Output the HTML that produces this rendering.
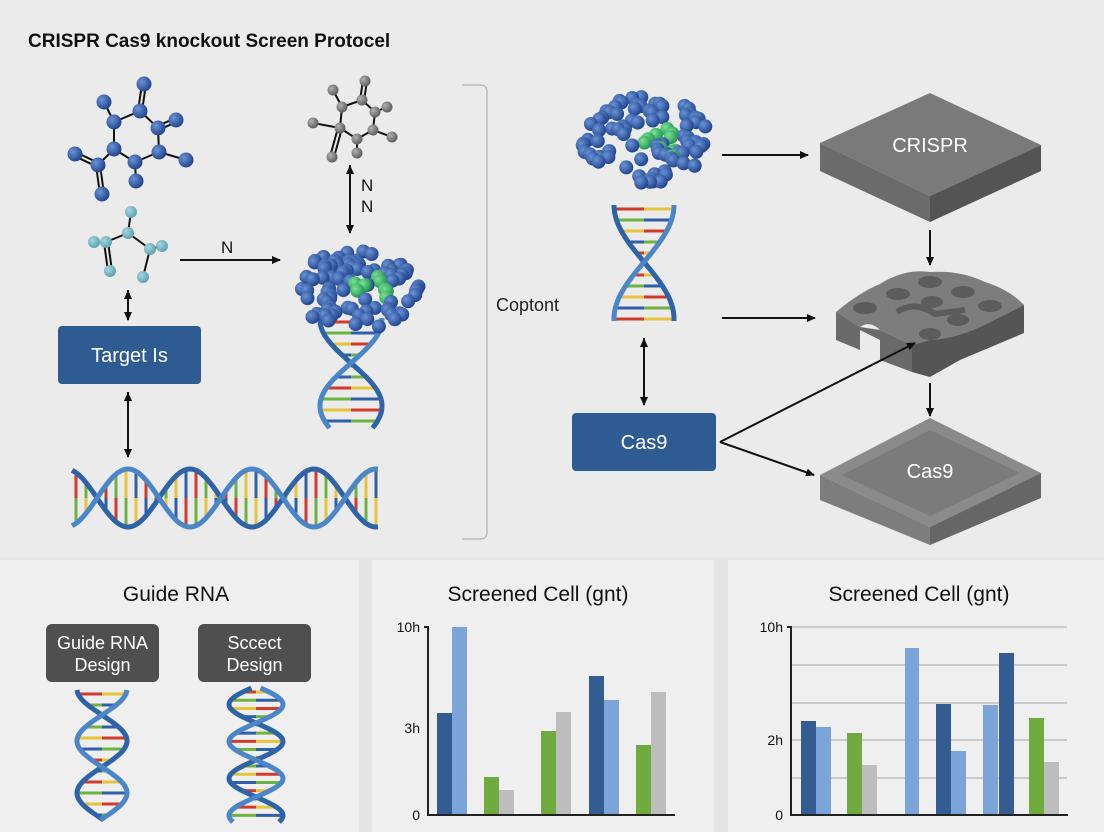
<!DOCTYPE html>
<html><head><meta charset="utf-8"><style>
html,body{margin:0;padding:0;background:#e9e9e9;}
svg{display:block;font-family:"Liberation Sans",sans-serif;}
</style></head><body>
<svg id="s" width="1104" height="832" viewBox="0 0 1104 832" xmlns="http://www.w3.org/2000/svg">
<defs>
<radialGradient id="gb" cx="35%" cy="35%" r="65%"><stop offset="0" stop-color="#6a93d6"/><stop offset="1" stop-color="#23478f"/></radialGradient>
<radialGradient id="gg" cx="35%" cy="35%" r="65%"><stop offset="0" stop-color="#7fe09a"/><stop offset="1" stop-color="#1f9a4c"/></radialGradient>
<radialGradient id="gt" cx="35%" cy="35%" r="65%"><stop offset="0" stop-color="#a5d6df"/><stop offset="1" stop-color="#5fa4b3"/></radialGradient>
<radialGradient id="gy" cx="35%" cy="35%" r="65%"><stop offset="0" stop-color="#b0b0b0"/><stop offset="1" stop-color="#5f5f5f"/></radialGradient>
<marker id="ah" markerWidth="10" markerHeight="10" refX="8" refY="5" orient="auto" markerUnits="userSpaceOnUse"><path d="M0,1 L9,5 L0,9 Z" fill="#111"/></marker>
<marker id="at" markerWidth="10" markerHeight="10" refX="1" refY="5" orient="auto" markerUnits="userSpaceOnUse"><path d="M10,1 L1,5 L10,9 Z" fill="#111"/></marker>
</defs>
<rect width="1104" height="832" fill="#ebebeb"/>
<rect x="0" y="558" width="1104" height="274" fill="#e4e4e4"/>
<rect x="0" y="560" width="359" height="272" fill="#efefef"/>
<rect x="372" y="560" width="342" height="272" fill="#efefef"/>
<rect x="728" y="560" width="376" height="272" fill="#efefef"/>
<text x="28" y="47" font-size="19" font-weight="bold" fill="#111">CRISPR Cas9 knockout Screen Protocel</text>
<path d="M462,85 H480 Q487,85 487,92 V532 Q487,539 480,539 H462" fill="none" stroke="#bbb" stroke-width="1.5"/>
<text x="496" y="311" font-size="18" fill="#222">Coptont</text>
<g id="mol"></g>
<g id="dna"></g>
<g id="clu"></g>
<rect x="58" y="326" width="143" height="58" rx="4" fill="#2f5b93"/>
<text x="129.5" y="362" font-size="20" fill="#fff" text-anchor="middle">Target Is</text>
<rect x="572" y="413" width="144" height="58" rx="4" fill="#2f5b93"/>
<text x="644" y="449" font-size="20" fill="#fff" text-anchor="middle">Cas9</text>
<polygon points="820,143 930,93 1041,145 930,196" fill="#7a7a7a"/>
<polygon points="820,143 930,196 930,222 820,171" fill="#6b6b6b"/>
<polygon points="930,196 1041,145 1041,171 930,222" fill="#545454"/>
<text x="930" y="152" font-size="20" fill="#fff" text-anchor="middle">CRISPR</text>
<path d="M836,312 Q860,292 880,284 Q905,268 930,272 Q960,270 985,282 Q1010,290 1024,305 L990,322 Q960,338 930,340 L912,345 L880,330 Q870,320 860,327 Z" fill="#7d7d7d"/>
<path d="M836,312 L860,327 L880,330 L912,345 L912,372 L880,360 L880,340 L860,330 L860,350 L836,340 Z" fill="#6a6a6a"/>
<path d="M912,345 L930,340 Q960,338 990,322 L1024,305 L1024,333 L960,360 L930,377 L912,372 Z" fill="#555"/>
<g fill="#5c5c5c"><ellipse cx="930" cy="282" rx="12" ry="6"/><ellipse cx="898" cy="294" rx="12" ry="6"/><ellipse cx="963" cy="292" rx="12" ry="6"/><ellipse cx="932" cy="302" rx="11" ry="6"/><ellipse cx="865" cy="308" rx="12" ry="6"/><ellipse cx="990" cy="306" rx="12" ry="6"/><ellipse cx="958" cy="320" rx="11" ry="6"/><ellipse cx="930" cy="334" rx="11" ry="6"/><path d="M897,312 Q915,300 935,314 Q950,312 965,310" stroke="#5c5c5c" stroke-width="6" fill="none"/></g>
<polygon points="820,475 930,418 1041,473 930,527" fill="#8a8a8a"/>
<polygon points="842,475 930,430 1020,473 930,516" fill="#7b7b7b"/>
<polygon points="820,475 930,527 930,545 820,500" fill="#7d7d7d"/>
<polygon points="930,527 1041,473 1041,498 930,545" fill="#666"/>
<text x="930" y="478" font-size="20" fill="#fff" text-anchor="middle">Cas9</text>
<g stroke="#111" stroke-width="2" fill="none">
<line x1="722" y1="155" x2="808" y2="155" marker-end="url(#ah)"/>
<line x1="930" y1="230" x2="930" y2="265" marker-end="url(#ah)"/>
<line x1="722" y1="318" x2="815" y2="318" marker-end="url(#ah)"/>
<line x1="930" y1="383" x2="930" y2="416" marker-end="url(#ah)"/>
<line x1="720" y1="442" x2="915" y2="343" marker-end="url(#ah)"/>
<line x1="720" y1="442" x2="814" y2="475" marker-end="url(#ah)"/>
<line x1="180" y1="260" x2="280" y2="260" marker-end="url(#ah)"/>
<line x1="128" y1="290" x2="128" y2="320" marker-end="url(#ah)" marker-start="url(#at)"/>
<line x1="128" y1="392" x2="128" y2="457" marker-end="url(#ah)" marker-start="url(#at)"/>
<line x1="350" y1="165" x2="350" y2="233" marker-end="url(#ah)" marker-start="url(#at)"/>
<line x1="644" y1="338" x2="644" y2="405" marker-end="url(#ah)" marker-start="url(#at)"/>
</g>
<text x="221" y="253" font-size="17" fill="#111">N</text>
<text x="361" y="191" font-size="17" fill="#111">N</text>
<text x="361" y="212" font-size="17" fill="#111">N</text>
<text x="176" y="601" font-size="21" fill="#111" text-anchor="middle">Guide RNA</text>
<rect x="46" y="624" width="113" height="58" rx="6" fill="#4f4f4f"/>
<text x="102.5" y="649" font-size="18" fill="#fff" text-anchor="middle">Guide RNA</text>
<text x="102.5" y="671" font-size="18" fill="#fff" text-anchor="middle">Design</text>
<rect x="198" y="624" width="113" height="58" rx="6" fill="#4f4f4f"/>
<text x="254.5" y="649" font-size="18" fill="#fff" text-anchor="middle">Sccect</text>
<text x="254.5" y="671" font-size="18" fill="#fff" text-anchor="middle">Design</text>
<text x="538" y="601" font-size="21" fill="#111" text-anchor="middle">Screened Cell (gnt)</text>
<g font-size="14" fill="#111" text-anchor="end"><text x="420" y="632">10h</text><text x="420" y="733">3h</text><text x="420" y="820">0</text></g>
<g>
<rect x="437" y="713" width="15" height="102" fill="#335c91"/>
<rect x="452" y="627" width="15" height="188" fill="#7ba5d9"/>
<rect x="484" y="777" width="15" height="38" fill="#6fab3e"/>
<rect x="499" y="790" width="15" height="25" fill="#bdbdbd"/>
<rect x="541" y="731" width="15" height="84" fill="#6fab3e"/>
<rect x="556" y="712" width="15" height="103" fill="#bdbdbd"/>
<rect x="589" y="676" width="15" height="139" fill="#335c91"/>
<rect x="604" y="700" width="15" height="115" fill="#7ba5d9"/>
<rect x="636" y="745" width="15" height="70" fill="#6fab3e"/>
<rect x="651" y="692" width="15" height="123" fill="#bdbdbd"/>
</g>
<path d="M424,627 H428 V815 H675" fill="none" stroke="#222" stroke-width="2"/>
<text x="919" y="601" font-size="21" fill="#111" text-anchor="middle">Screened Cell (gnt)</text>
<g stroke="#bdbdbd" stroke-width="1.5"><line x1="791" y1="627" x2="1067" y2="627"/><line x1="791" y1="665" x2="1067" y2="665"/><line x1="791" y1="703" x2="1067" y2="703"/><line x1="791" y1="740" x2="1067" y2="740"/><line x1="791" y1="778" x2="1067" y2="778"/></g>
<g font-size="14" fill="#111" text-anchor="end"><text x="783" y="632">10h</text><text x="783" y="745">2h</text><text x="783" y="820">0</text></g>
<g>
<rect x="801" y="721" width="15" height="94" fill="#335c91"/>
<rect x="816" y="727" width="15" height="88" fill="#7ba5d9"/>
<rect x="847" y="733" width="15" height="82" fill="#6fab3e"/>
<rect x="862" y="765" width="15" height="50" fill="#bdbdbd"/>
<rect x="905" y="648" width="14" height="167" fill="#7ba5d9"/>
<rect x="936" y="704" width="15" height="111" fill="#335c91"/>
<rect x="951" y="751" width="15" height="64" fill="#7ba5d9"/>
<rect x="983" y="705" width="15" height="110" fill="#7ba5d9"/>
<rect x="999" y="653" width="15" height="162" fill="#335c91"/>
<rect x="1029" y="718" width="15" height="97" fill="#6fab3e"/>
<rect x="1044" y="762" width="15" height="53" fill="#bdbdbd"/>
</g>
<path d="M787,627 H791 V815 H1068" fill="none" stroke="#222" stroke-width="2"/>
</svg>
<script>
var NS="http://www.w3.org/2000/svg";
function el(p,t,a){var e=document.createElementNS(NS,t);for(var k in a)e.setAttribute(k,a[k]);document.getElementById(p).appendChild(e);return e;}
var cols=["#d33a2c","#6db33f","#e6c33a","#2f5fa8"];
function helixV(cx,y0,y1,amp,per,sw,yc){
  var a="",b="",n=0,sp=Math.min(per/9,11);
  for(var y=y0;y<=y1;y+=2){var t=2*Math.PI*(y-yc)/per;var x1=cx+amp*Math.sin(t),x2=cx-amp*Math.sin(t);a+=(a?"L":"M")+x1.toFixed(1)+","+y;b+=(b?"L":"M")+x2.toFixed(1)+","+y;}
  for(var y=y0+4;y<=y1-2;y+=sp){var t=2*Math.PI*(y-yc)/per;var x1=cx+amp*Math.sin(t),x2=cx-amp*Math.sin(t);var m=(x1+x2)/2;
    el("dna","line",{x1:x1,y1:y,x2:m,y2:y,stroke:cols[n%4],"stroke-width":3});el("dna","line",{x1:m,y1:y,x2:x2,y2:y,stroke:cols[(n+2)%4],"stroke-width":3});n++;}
  el("dna","path",{d:a,fill:"none",stroke:"#2f63a8","stroke-width":sw});
  el("dna","path",{d:b,fill:"none",stroke:"#4b86c8","stroke-width":sw});
}
function helixH(cy,x0,x1,amp,per,sw,xc){
  var a="",b="",n=0,sp=10;
  for(var x=x0;x<=x1;x+=2){var t=2*Math.PI*(x-xc)/per;a+=(a?"L":"M")+x+","+(cy+amp*Math.sin(t)).toFixed(1);b+=(b?"L":"M")+x+","+(cy-amp*Math.sin(t)).toFixed(1);}
  for(var x=x0+4;x<=x1-2;x+=sp){var t=2*Math.PI*(x-xc)/per;var y1=cy+amp*Math.sin(t),y2=cy-amp*Math.sin(t),m=cy;
    el("dna","line",{x1:x,y1:y1,x2:x,y2:m,stroke:cols[n%4],"stroke-width":3});el("dna","line",{x1:x,y1:m,x2:x,y2:y2,stroke:cols[(n+1)%4],"stroke-width":3});n++;}
  el("dna","path",{d:a,fill:"none",stroke:"#2f63a8","stroke-width":sw});
  el("dna","path",{d:b,fill:"none",stroke:"#4b86c8","stroke-width":sw});
}
helixH(498,72,378,29,124,5,97);
helixV(351,318,428,31,172,5,363);
helixV(644,205,322,30,228,5,262);
helixV(102,690,820,25,104,5,715);
helixV(256,688,822,27,74,5,723);
function mol(atoms,bonds,fill,r){
  bonds.forEach(function(b){var p=atoms[b[0]],q=atoms[b[1]];
    if(b[2]){var dx=q[1]-p[1],dy=p[0]-q[0],L=Math.hypot(dx,dy);dx=dx/L*2;dy=dy/L*2;
      el("mol","line",{x1:p[0]+dx,y1:p[1]+dy,x2:q[0]+dx,y2:q[1]+dy,stroke:"#111","stroke-width":2});
      el("mol","line",{x1:p[0]-dx,y1:p[1]-dy,x2:q[0]-dx,y2:q[1]-dy,stroke:"#111","stroke-width":2});}
    else el("mol","line",{x1:p[0],y1:p[1],x2:q[0],y2:q[1],stroke:"#111","stroke-width":2});});
  atoms.forEach(function(a){el("mol","circle",{cx:a[0],cy:a[1],r:a[2]||r,fill:fill});});
}
mol([[140,111],[114,122],[158,128],[114,149],[159,152],[135,162],[104,102],[144,84],[176,120],[186,160],[75,154],[98,165],[102,194],[136,181]],
 [[0,1],[0,2],[1,3],[2,4],[3,5],[4,5],[1,6],[0,7,1],[2,8,1],[4,9],[11,10,1],[11,3],[11,12,1],[5,13]],"url(#gb)",7.5);
mol([[128,233],[106,242],[150,249],[131,212],[94,242],[110,271],[143,277],[162,246]],
 [[0,1],[0,2],[0,3],[1,4],[1,5,1],[2,6],[2,7]],"url(#gt)",6);
mol([[342,107],[362,100],[375,112],[373,130],[357,139],[340,128],[333,90],[365,81],[387,107],[392,137],[357,153],[313,123],[332,157]],
 [[0,1],[1,2],[2,3],[3,4],[4,5],[5,0],[0,6],[1,7,1],[2,8],[3,9],[4,10],[5,11],[5,12,1]],"url(#gy)",5.5);
var seed=7;function rnd(){seed=(seed*16807)%2147483647;return seed/2147483647;}
function cluster(cx,cy,rx,ry,n,gx,gy){
  var pts=[];for(var i=0;i<n;i++){var a=rnd()*2*Math.PI,d=Math.sqrt(rnd());pts.push([cx+Math.cos(a)*d*rx,cy+Math.sin(a)*d*ry]);}
  pts.sort(function(a,b){return a[1]-b[1];});
  pts.forEach(function(p){var g=Math.hypot(p[0]-gx,(p[1]-gy)*1.3)<22&&rnd()<0.7;
    el("clu","circle",{cx:p[0].toFixed(1),cy:p[1].toFixed(1),r:7,fill:g?"url(#gg)":"url(#gb)"});});
}
cluster(355,290,64,40,95,372,292);
cluster(646,140,64,44,95,662,142);
</script>
</body></html>
